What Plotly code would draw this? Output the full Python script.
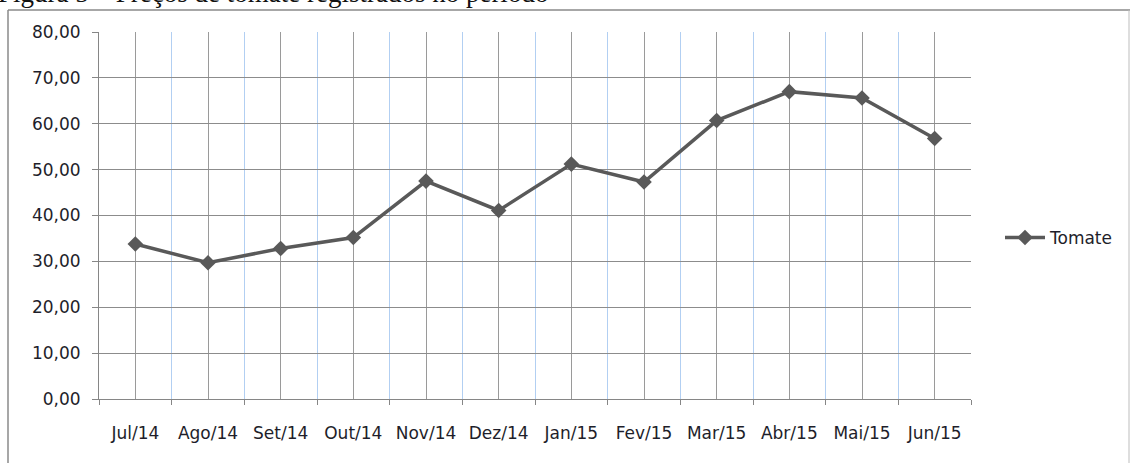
import plotly.graph_objects as go

months = ["Jul/14", "Ago/14", "Set/14", "Out/14", "Nov/14", "Dez/14",
          "Jan/15", "Fev/15", "Mar/15", "Abr/15", "Mai/15", "Jun/15"]
tomate = [33.8, 29.7, 32.8, 35.2, 47.5, 41.1, 51.2, 47.3, 60.7, 67.0, 65.6, 56.8]
y_ticks = [0, 10, 20, 30, 40, 50, 60, 70, 80]
title_text = "Figura 5 – Preços de tomate registrados no período"

W, H = 1130, 463
L, R, T, B = 99, 159, 32, 64
pw, ph = W - L - R, H - T - B

def px_x(p):
    return (p - L) / pw

def px_y(p):
    return (H - B - p) / ph

pos = list(range(len(months)))
bounds = [i - 0.5 for i in range(len(months) + 1)]

fig = go.Figure()
fig.add_trace(go.Scatter(
    x=pos, y=tomate, name="Tomate", mode="lines+markers",
    line=dict(color="#595959", width=3.5),
    marker=dict(symbol="diamond", size=12, color="#595959"),
))

font = "'DejaVu Sans', Verdana, sans-serif"
fs = 17
fig.update_layout(
    width=W, height=H,
    margin=dict(l=L, r=R, t=T, b=B),
    paper_bgcolor="white", plot_bgcolor="white",
    separators=",.",
    font=dict(family=font, size=fs, color="#1e1e2a"),
    showlegend=True,
    legend=dict(x=px_x(1000), y=px_y(238), xanchor="left", yanchor="middle",
                font=dict(family=font, size=fs, color="#1e1e2a"),
                itemwidth=40, bgcolor="rgba(0,0,0,0)"),
    xaxis=dict(
        range=[-0.5, len(months) - 0.5],
        tickmode="array", tickvals=pos, ticktext=months,
        showgrid=True, gridcolor="#9a9a9a", gridwidth=1,
        ticks="", ticklabelstandoff=19,
        showline=True, linecolor="#868686", linewidth=1,
        zeroline=False,
        minor=dict(tickmode="array", tickvals=bounds, ticks="outside",
                   ticklen=5, tickcolor="#868686", tickwidth=1,
                   showgrid=True, gridcolor="#b2cff2", gridwidth=1),
        tickfont=dict(family=font, size=fs, color="#1e1e2a"),
    ),
    yaxis=dict(
        range=[0, 80], tickmode="array", tickvals=y_ticks,
        tickformat=".2f",
        showgrid=True, gridcolor="#8c8c8c", gridwidth=1,
        ticks="outside", ticklen=6, tickcolor="#868686",
        showline=True, linecolor="#868686", linewidth=1,
        zeroline=False, ticklabelstandoff=8,
        tickfont=dict(family=font, size=fs, color="#1e1e2a"),
    ),
    annotations=[dict(
        text=title_text, xref="paper", yref="paper",
        x=px_x(-4), y=px_y(10), xanchor="left", yanchor="bottom",
        showarrow=False,
        font=dict(family="'Liberation Serif', 'Times New Roman', serif", size=27, color="#111111"),
    )],
    shapes=[
        dict(type="line", xref="paper", yref="paper",
             x0=px_x(8), x1=px_x(1135), y0=px_y(10), y1=px_y(10),
             line=dict(color="#8a8a8a", width=1.5)),
        dict(type="line", xref="paper", yref="paper",
             x0=px_x(8), x1=px_x(8), y0=px_y(10), y1=px_y(470),
             line=dict(color="#8a8a8a", width=1.5)),
        dict(type="line", xref="paper", yref="paper",
             x0=px_x(1129), x1=px_x(1129), y0=px_y(10), y1=px_y(470),
             line=dict(color="#bdbdbd", width=1)),
    ],
)

fig.write_html("out.html", config={"displayModeBar": False},
               post_script="document.body.style.margin='0px';")
